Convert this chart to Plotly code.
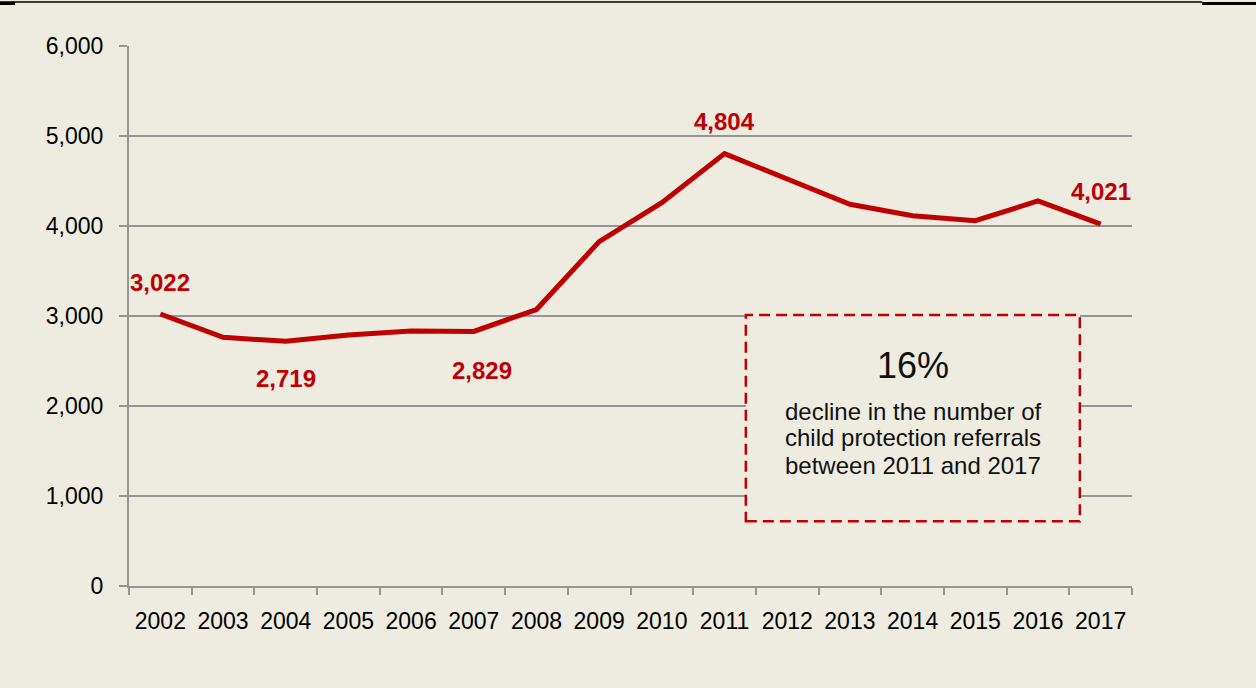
import plotly.graph_objects as go

years = ["2002", "2003", "2004", "2005", "2006", "2007", "2008", "2009",
         "2010", "2011", "2012", "2013", "2014", "2015", "2016", "2017"]
referrals = [3022, 2763, 2719, 2789, 2833, 2829, 3072, 3826,
             4259, 4804, 4522, 4241, 4115, 4059, 4278, 4021]
y_ticks = [0, 1000, 2000, 3000, 4000, 5000, 6000]

# labelled points: (year, shift in px)
labelled = {"2002": (0, 32), "2004": (0, -37), "2007": (8, -39), "2011": (0, 32), "2017": (0, 33)}

box_title = "16%"
box_lines = ["decline in the number of", "child protection referrals", "between 2011 and 2017"]

RED = "#C00000"
BG = "#EEEBE1"
GRID = "#959595"
FONT = "Liberation Sans, Arial, sans-serif"

fig = go.Figure()
fig.add_trace(go.Scatter(x=years, y=referrals, mode="lines",
                         line=dict(color=RED, width=5), hoverinfo="x+y"))

for yr, (dx, dy) in labelled.items():
    i = years.index(yr)
    v = referrals[i]
    fig.add_annotation(x=i, y=v, text=f"{v:,}", showarrow=False,
                       xshift=dx, yshift=dy, xanchor="center", yanchor="middle",
                       font=dict(family=FONT, size=24, color=RED, weight="bold"))

# dashed box
fig.add_shape(type="rect", xref="paper", yref="paper",
              x0=0.615, x1=0.948, y0=0.120, y1=0.502,
              line=dict(color=RED, width=2.5, dash="11px,6px"), fillcolor=BG, layer="above")
fig.add_annotation(xref="paper", yref="paper", x=0.7816, y=(586 - 365) / 540,
                   text=box_title, showarrow=False, xanchor="center", yanchor="middle",
                   font=dict(family=FONT, size=36, color="#111111"))
for i, t in enumerate(box_lines):
    fig.add_annotation(xref="paper", yref="paper", x=0.7816, y=(586 - (411 + 27 * i)) / 540,
                       text=t, showarrow=False, xanchor="center", yanchor="middle",
                       font=dict(family=FONT, size=24, color="#111111"))

# top border lines
fig.add_shape(type="line", xref="paper", yref="paper",
              x0=-0.1286, x1=1.07, y0=(586 - 2) / 540, y1=(586 - 2) / 540,
              line=dict(color="black", width=1.5))
fig.add_shape(type="line", xref="paper", yref="paper",
              x0=1.07, x1=1.124, y0=(586 - 3.5) / 540, y1=(586 - 3.5) / 540,
              line=dict(color="black", width=3))
fig.add_shape(type="line", xref="paper", yref="paper",
              x0=-0.1286, x1=-0.1136, y0=(586 - 3.5) / 540, y1=(586 - 3.5) / 540,
              line=dict(color="black", width=3))

fig.update_layout(
    width=1256, height=688,
    margin=dict(l=129, r=124, t=46, b=102),
    paper_bgcolor=BG, plot_bgcolor=BG,
    showlegend=False,
    font=dict(family=FONT, size=23, color="black"),
    xaxis=dict(type="category", categoryorder="array", categoryarray=years,
               range=[-0.5, len(years) - 0.5], autorange=False,
               tickson="boundaries", ticks="outside", ticklen=7, tickangle=0,
               tickcolor=GRID, tickwidth=2, showgrid=False, showline=True,
               linecolor=GRID, linewidth=2, ticklabelstandoff=13,
               tickfont=dict(size=23)),
    yaxis=dict(range=[0, 6000], autorange=False, tickvals=y_ticks, tickformat=",",
               ticks="outside", ticklen=8, tickcolor=GRID, tickwidth=2, showgrid=True,
               gridcolor=GRID, gridwidth=2, showline=True, linecolor=GRID, linewidth=2,
               zeroline=False, ticklabelstandoff=11, tickfont=dict(size=23)),
)

fig.write_html("out.html", config={"displayModeBar": False},
               post_script="document.body.style.margin='0';document.body.style.background='#EEEBE1';")
